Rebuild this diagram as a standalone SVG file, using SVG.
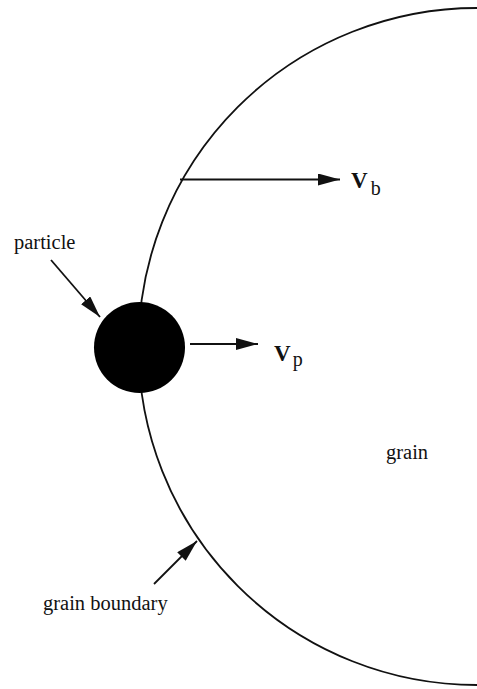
<svg xmlns="http://www.w3.org/2000/svg" width="477" height="689" viewBox="0 0 477 689">
<style>
text{font-family:"Liberation Serif","Times New Roman",serif;fill:#111;}
.lbl{font-size:20.5px;}
.v{font-size:23px;font-weight:bold;}
.sub{font-size:20px;}
.ln{stroke:#111;stroke-width:1.8;fill:none;}
</style>
<defs>
<marker id="ah" viewBox="0 0 10 10" refX="10" refY="5" markerWidth="22" markerHeight="12" markerUnits="userSpaceOnUse" orient="auto" preserveAspectRatio="none">
<path d="M0,0 L10,5 L0,10 Z" fill="#111"/>
</marker>
</defs>
<rect width="477" height="689" fill="#fff"/>
<g id="boundary">
<path class="ln" d="M477,8 A338.5,338.5 0 0 0 477,685" stroke-width="1.6"/>
</g>
<g id="particle">
<circle cx="139.5" cy="347.5" r="45.5" fill="#000"/>
</g>
<g id="labels">
<text class="lbl" x="14" y="249">particle</text>
<text class="lbl" x="43" y="610">grain boundary</text>
<text class="lbl" x="386" y="459">grain</text>
<text x="351" y="188"><tspan class="v">V</tspan><tspan class="sub" dx="3" dy="7">b</tspan></text>
<text x="274" y="361"><tspan class="v">V</tspan><tspan class="sub" dx="2" dy="5">p</tspan></text>
</g>
<g id="connectors">
<line class="ln" x1="180" y1="179.5" x2="340" y2="179.5" marker-end="url(#ah)"/>
<line class="ln" x1="190" y1="344" x2="258" y2="344" marker-end="url(#ah)"/>
<line class="ln" x1="51" y1="260" x2="100" y2="317" marker-end="url(#ah)"/>
<line class="ln" x1="154" y1="584" x2="197" y2="541" marker-end="url(#ah)"/>
</g>
</svg>
